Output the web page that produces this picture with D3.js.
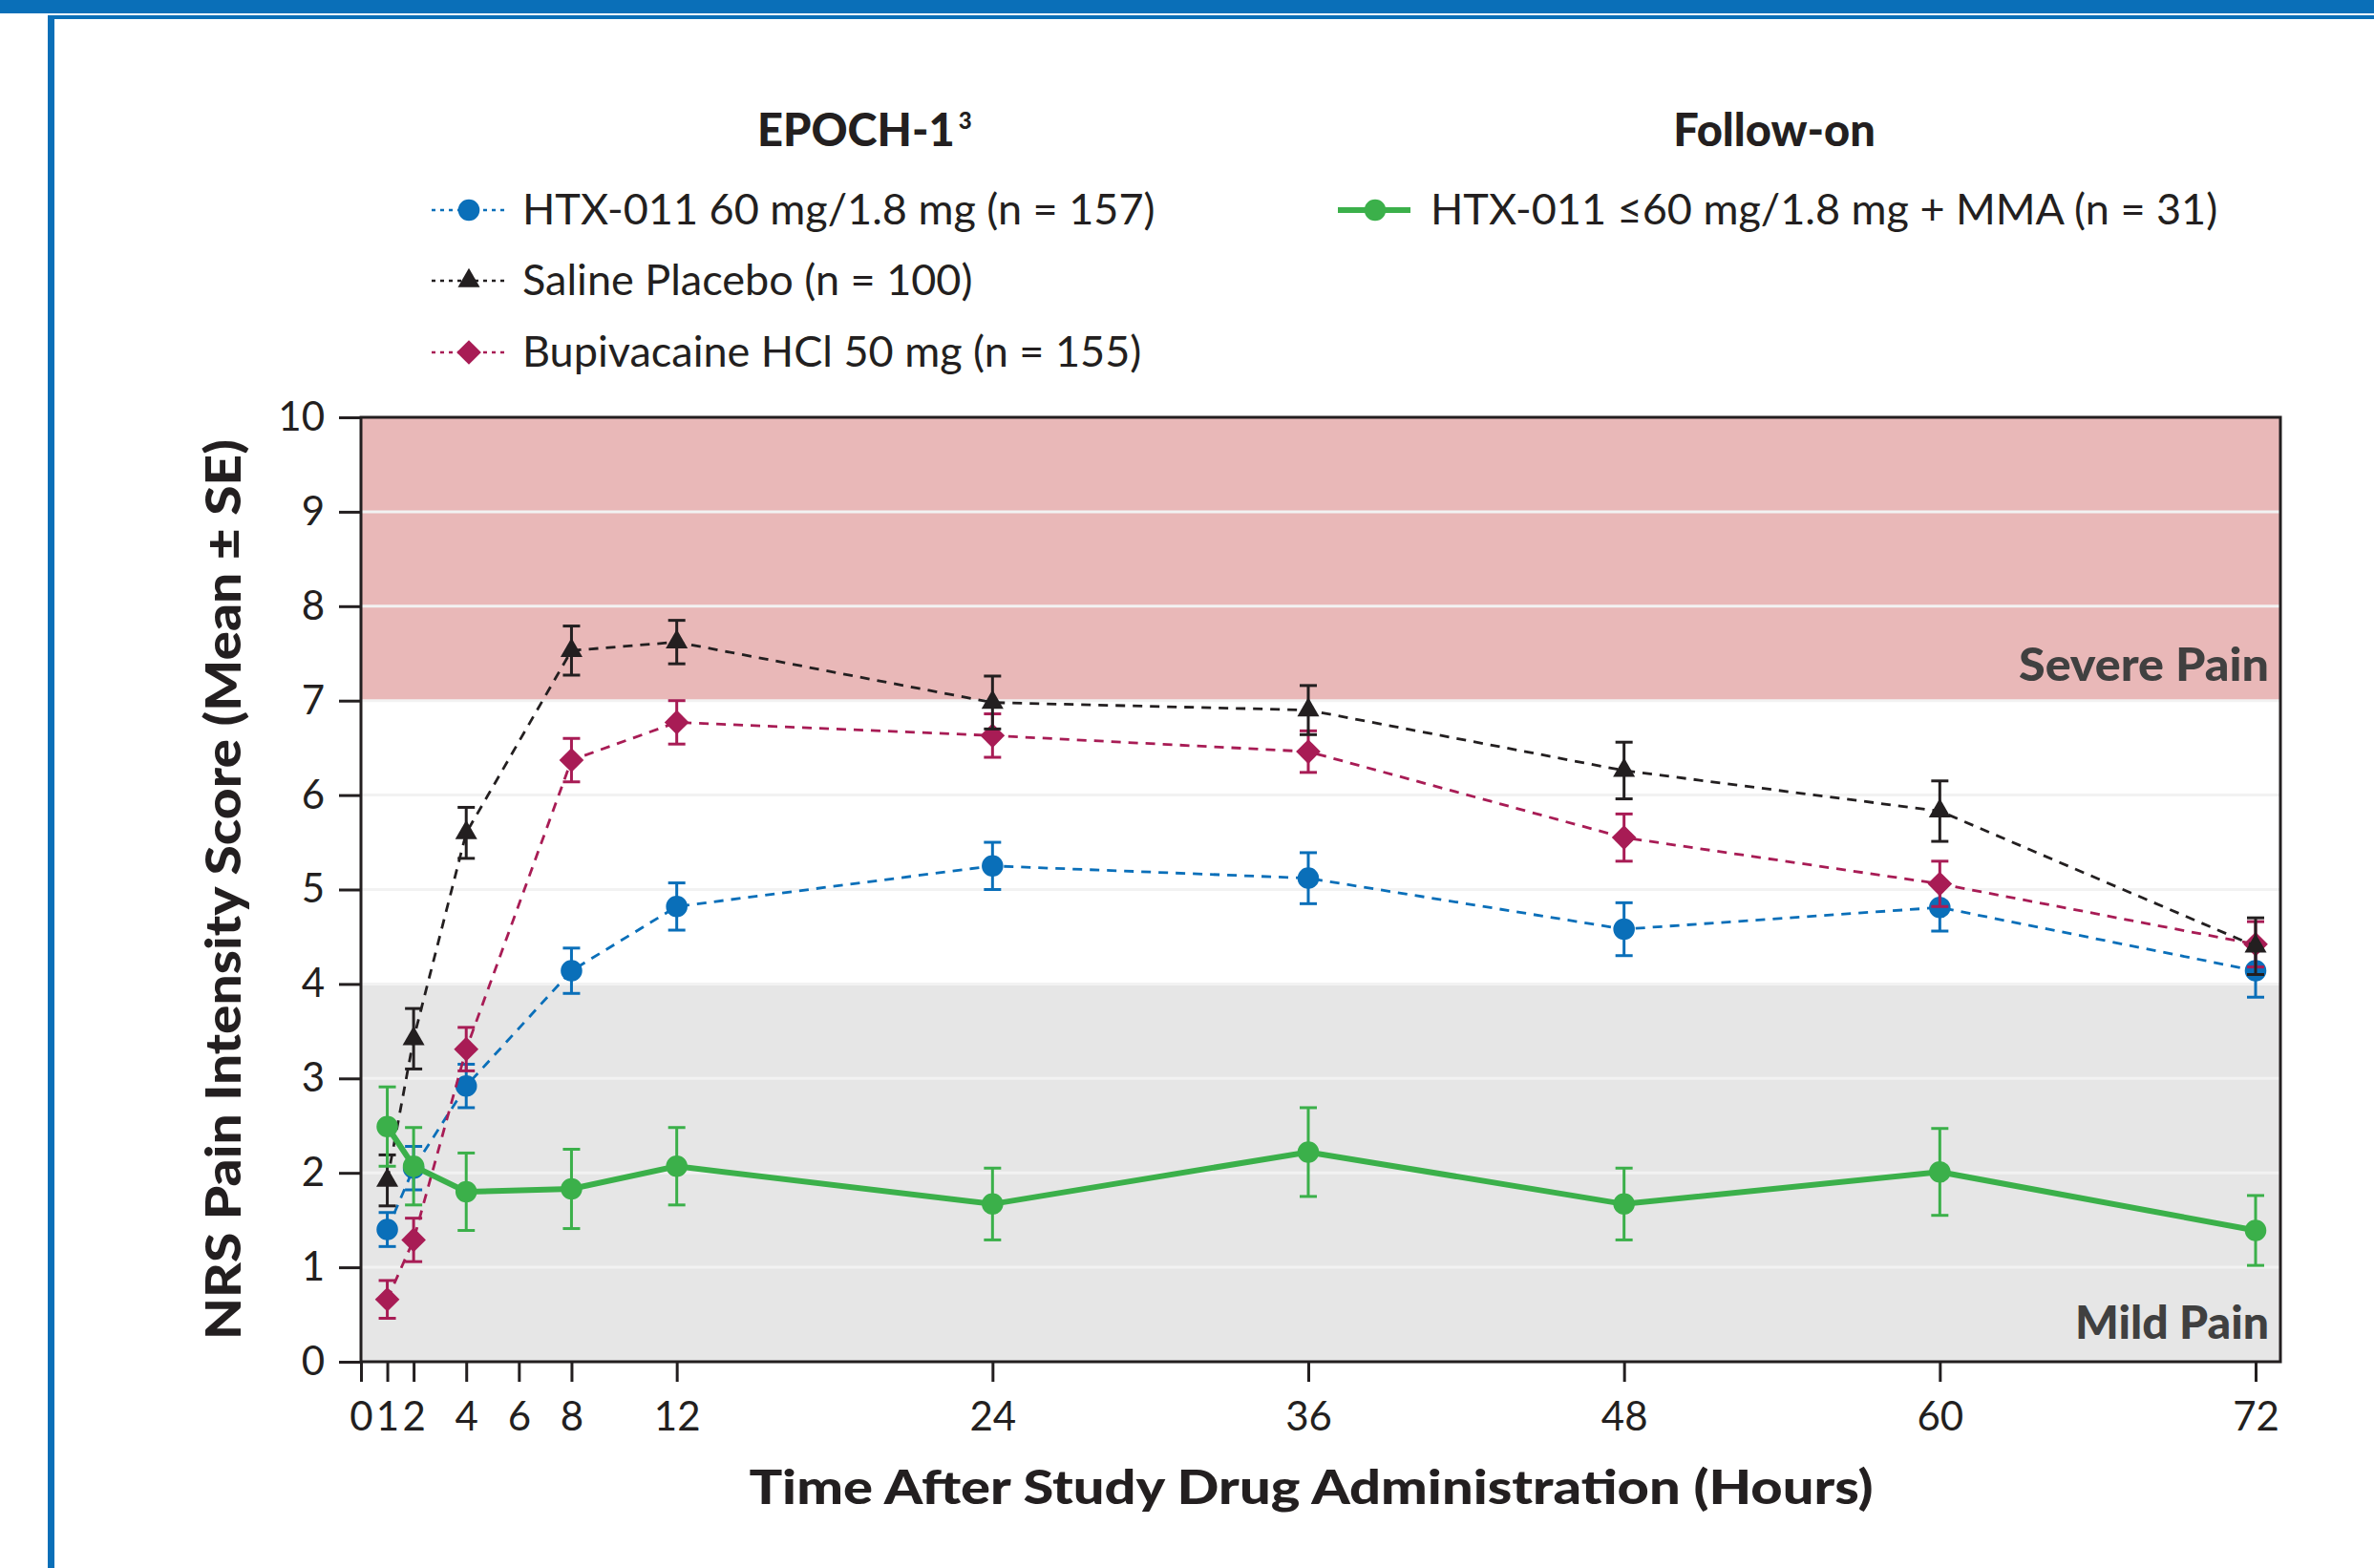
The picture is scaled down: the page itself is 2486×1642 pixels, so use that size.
<!DOCTYPE html>
<html>
<head>
<meta charset="utf-8">
<script src="https://cdn.jsdelivr.net/npm/d3@7"></script>
<style>
  body { margin: 0; background: #ffffff; }
  svg { display: block; font-family: Lato, "Open Sans", sans-serif; }
</style>
</head>
<body>
<svg id="chart"></svg>
<script>
// data
const hours = [1, 2, 4, 8, 12, 24, 36, 48, 60, 72];
const xTicks = [0, 1, 2, 4, 6, 8, 12, 24, 36, 48, 60, 72];
const yTicks = [0, 1, 2, 3, 4, 5, 6, 7, 8, 9, 10];

const htxMean = [1.40, 2.05, 2.92, 4.14, 4.82, 5.25, 5.12, 4.58, 4.81, 4.14];
const htxSE = [0.18, 0.23, 0.23, 0.24, 0.25, 0.25, 0.27, 0.28, 0.25, 0.28];
const salineMean = [1.92, 3.42, 5.60, 7.53, 7.62, 6.98, 6.90, 6.26, 5.83, 4.40];
const salineSE = [0.27, 0.32, 0.27, 0.26, 0.23, 0.28, 0.26, 0.30, 0.32, 0.30];
const bupiMean = [0.66, 1.29, 3.31, 6.37, 6.77, 6.63, 6.46, 5.55, 5.06, 4.42];
const bupiSE = [0.20, 0.23, 0.23, 0.23, 0.23, 0.23, 0.22, 0.25, 0.24, 0.24];
const mmaMean = [2.49, 2.07, 1.80, 1.83, 2.07, 1.67, 2.22, 1.67, 2.01, 1.39];
const mmaSE = [0.42, 0.41, 0.41, 0.42, 0.41, 0.38, 0.47, 0.38, 0.46, 0.37];

const severeRange = [7, 10];
const mildRange = [0, 4];

const width = 2486;
const height = 1642;
const margin = { top: 437, right: 98, bottom: 216, left: 378 };

const textColor = "#231f20";
const bandLabelColor = "#404040";
const frameBlue = "#0a6fb8";

const series = [
  { name: "HTX-011 60 mg/1.8 mg (n = 157)", mean: htxMean, se: htxSE, color: "#0a6fb9", symbol: "circle", dashed: true },
  { name: "Bupivacaine HCl 50 mg (n = 155)", mean: bupiMean, se: bupiSE, color: "#a81c55", symbol: "diamond", dashed: true },
  { name: "Saline Placebo (n = 100)", mean: salineMean, se: salineSE, color: "#231f20", symbol: "triangle", dashed: true },
  { name: "HTX-011 \u226460 mg/1.8 mg + MMA (n = 31)", mean: mmaMean, se: mmaSE, color: "#3bb04a", symbol: "circle", dashed: false },
];

const svg = d3.select("#chart")
  .attr("width", width)
  .attr("height", height)
  .attr("viewBox", `0 0 ${width} ${height}`);

// page frame (blue banner and left rule)
svg.append("rect").attr("x", 0).attr("y", 0).attr("width", width).attr("height", 14).attr("fill", frameBlue);
svg.append("rect").attr("x", 50).attr("y", 16).attr("width", width - 50).attr("height", 4).attr("fill", frameBlue);
svg.append("rect").attr("x", 50).attr("y", 16).attr("width", 7).attr("height", height - 16).attr("fill", frameBlue);

const x = d3.scaleLinear()
  .domain([0, 72])
  .range([margin.left, width - margin.right - 26]);

const y = d3.scaleLinear()
  .domain([0, 10])
  .range([height - margin.bottom, margin.top]);

const plotLeft = margin.left;
const plotRight = width - margin.right;
const plotTop = margin.top;
const plotBottom = height - margin.bottom;

// pain bands
svg.append("rect")
  .attr("x", plotLeft).attr("width", plotRight - plotLeft)
  .attr("y", y(severeRange[1])).attr("height", y(severeRange[0]) - y(severeRange[1]))
  .attr("fill", "#e9b8b8");
svg.append("rect")
  .attr("x", plotLeft).attr("width", plotRight - plotLeft)
  .attr("y", y(mildRange[1])).attr("height", y(mildRange[0]) - y(mildRange[1]))
  .attr("fill", "#e6e6e6");

// grid lines
svg.selectAll(".grid")
  .data(yTicks.slice(1, -1))
  .enter()
  .append("line")
  .attr("class", "grid")
  .attr("x1", plotLeft).attr("x2", plotRight)
  .attr("y1", (d) => y(d)).attr("y2", (d) => y(d))
  .attr("stroke", "#f2f2f2")
  .attr("stroke-width", 3);

// band labels
svg.append("text")
  .attr("x", plotRight - 12).attr("y", y(7) - 21)
  .attr("text-anchor", "end")
  .attr("textLength", 262).attr("lengthAdjust", "spacingAndGlyphs")
  .style("font-size", "47px").style("font-weight", 900)
  .style("fill", bandLabelColor)
  .text("Severe Pain");
svg.append("text")
  .attr("x", plotRight - 12).attr("y", y(0) - 24)
  .attr("text-anchor", "end")
  .attr("textLength", 203).attr("lengthAdjust", "spacingAndGlyphs")
  .style("font-size", "47px").style("font-weight", 900)
  .style("fill", bandLabelColor)
  .text("Mild Pain");

// frame of plot
svg.append("rect")
  .attr("x", plotLeft).attr("y", plotTop)
  .attr("width", plotRight - plotLeft).attr("height", plotBottom - plotTop)
  .attr("fill", "none").attr("stroke", textColor).attr("stroke-width", 3);

// axes
const styleAxis = (g) => {
  g.select(".domain").remove();
  g.selectAll("line").attr("stroke", textColor).attr("stroke-width", 3);
  g.selectAll("text")
    .attr("fill", textColor)
    .style("font-size", "42px")
    .style("font-family", "Lato, sans-serif");
};

svg.append("g")
  .attr("transform", `translate(0,${plotBottom})`)
  .call(d3.axisBottom(x).tickValues(xTicks).tickFormat(d3.format("d")).tickSize(21).tickPadding(21))
  .call(styleAxis);

svg.append("g")
  .attr("transform", `translate(${plotLeft},0)`)
  .call(d3.axisLeft(y).tickValues(yTicks).tickFormat(d3.format("d")).tickSize(23).tickPadding(15))
  .call(styleAxis);

// axis titles
svg.append("text")
  .attr("transform", `translate(252,${(plotTop + plotBottom) / 2}) rotate(-90)`)
  .attr("text-anchor", "middle")
  .attr("textLength", 943).attr("lengthAdjust", "spacingAndGlyphs")
  .style("font-size", "51px").style("font-weight", 900)
  .style("fill", textColor)
  .text("NRS Pain Intensity Score (Mean \u00b1 SE)");

svg.append("text")
  .attr("x", (plotLeft + plotRight) / 2 - 10).attr("y", 1575)
  .attr("text-anchor", "middle")
  .attr("textLength", 1177).attr("lengthAdjust", "spacingAndGlyphs")
  .style("font-size", "50px").style("font-weight", 900)
  .style("fill", textColor)
  .text("Time After Study Drug Administration (Hours)");

// marker shapes
const symbolPath = (kind) => {
  if (kind === "triangle") return d3.symbol(d3.symbolTriangle, 230)();
  if (kind === "diamond") return d3.symbol(d3.symbolSquare, 330)();
  return d3.symbol(d3.symbolCircle, 400)();
};
const symbolRotate = (kind) => (kind === "diamond" ? " rotate(45)" : "");

const line = d3.line()
  .x((d) => x(d.hour))
  .y((d) => y(d.mean));

// series
series.forEach((s) => {
  const points = hours.map((hour, i) => ({ hour, mean: s.mean[i], se: s.se[i] }));
  const group = svg.append("g");

  group.append("path")
    .datum(points)
    .attr("d", line)
    .attr("fill", "none")
    .attr("stroke", s.color)
    .attr("stroke-width", s.dashed ? 2.8 : 6)
    .attr("stroke-dasharray", s.dashed ? "10,8" : null);

  const capHalf = 9;
  const errorBars = group.selectAll(".err")
    .data(points)
    .enter()
    .append("g")
    .attr("stroke", s.color)
    .attr("stroke-width", 3);

  errorBars.append("line")
    .attr("x1", (d) => x(d.hour)).attr("x2", (d) => x(d.hour))
    .attr("y1", (d) => y(d.mean - d.se)).attr("y2", (d) => y(d.mean + d.se));
  errorBars.append("line")
    .attr("x1", (d) => x(d.hour) - capHalf).attr("x2", (d) => x(d.hour) + capHalf)
    .attr("y1", (d) => y(d.mean + d.se)).attr("y2", (d) => y(d.mean + d.se));
  errorBars.append("line")
    .attr("x1", (d) => x(d.hour) - capHalf).attr("x2", (d) => x(d.hour) + capHalf)
    .attr("y1", (d) => y(d.mean - d.se)).attr("y2", (d) => y(d.mean - d.se));

  group.selectAll(".marker")
    .data(points)
    .enter()
    .append("path")
    .attr("d", symbolPath(s.symbol))
    .attr("transform", (d) => `translate(${x(d.hour)},${y(d.mean)})${symbolRotate(s.symbol)}`)
    .attr("fill", s.color);
});

// legend headings
const heading = svg.append("text")
  .attr("x", 793).attr("y", 153)
  .style("font-size", "47px").style("font-weight", 900)
  .style("fill", textColor);
heading.append("tspan").text("EPOCH-1");
heading.append("tspan").attr("dx", 4).attr("dy", -18).style("font-size", "24px").text("3");

svg.append("text")
  .attr("x", 1858).attr("y", 153)
  .attr("text-anchor", "middle")
  .style("font-size", "47px").style("font-weight", 900)
  .style("fill", textColor)
  .text("Follow-on");

// legend entries
const legendRows = [
  { s: series[0], x: 452, y: 220 },
  { s: series[2], x: 452, y: 294 },
  { s: series[1], x: 452, y: 369 },
  { s: series[3], x: 1401, y: 220 },
];

legendRows.forEach((row) => {
  const g = svg.append("g").attr("transform", `translate(${row.x},${row.y})`);
  g.append("line")
    .attr("x1", 0).attr("x2", 76)
    .attr("stroke", row.s.color)
    .attr("stroke-width", row.s.dashed ? 2.5 : 6)
    .attr("stroke-dasharray", row.s.dashed ? "4,5" : null);
  g.append("path")
    .attr("d", symbolPath(row.s.symbol))
    .attr("transform", `translate(39,0)${symbolRotate(row.s.symbol)}`)
    .attr("fill", row.s.color);
  g.append("text")
    .attr("x", row.s.dashed ? 95 : 97)
    .attr("y", 15)
    .style("font-size", "45px")
    .style("font-family", "Lato, sans-serif")
    .style("fill", textColor)
    .text(row.s.name);
});
</script>
</body>
</html>
